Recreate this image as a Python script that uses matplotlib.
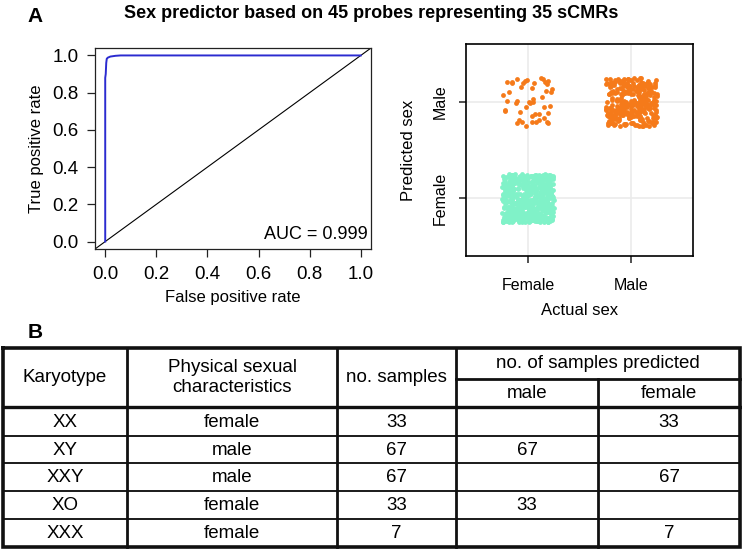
import numpy as np
import matplotlib
matplotlib.use('Agg')
import matplotlib.pyplot as plt

plt.rcParams['font.family'] = ['Liberation Sans', 'DejaVu Sans']

# ROC curve
FPR = [0.0, 0.0, 0.002, 0.004, 0.006, 0.010, 0.020, 0.040, 0.060, 1.0]
TPR = [0.0, 0.880, 0.900, 0.960, 0.982, 0.988, 0.994, 0.998, 1.0, 1.0]
AUC_TEXT = 'AUC = 0.999'

# jittered confusion plot: number of samples per (actual, predicted) cell
SEX_LABELS = ['Female', 'Male']
CELL_ACTUAL = ['Female', 'Female', 'Male', 'Male']
CELL_PREDICTED = ['Female', 'Male', 'Male', 'Female']
CELL_COUNTS = [560, 48, 300, 0]
COLOR_PRED = {'Female': '#80F2C8', 'Male': '#F57A1A'}

# table B
KARYOTYPE = ['XX', 'XY', 'XXY', 'XO', 'XXX']
PHYSICAL = ['female', 'male', 'male', 'female', 'female']
N_SAMPLES = [33, 67, 67, 33, 7]
PRED_MALE = [None, 67, None, 33, None]
PRED_FEMALE = [33, None, 67, None, 7]

TITLE = 'Sex predictor based on 45 probes representing 35 sCMRs'

fig = plt.figure(figsize=(7.42, 5.51), dpi=100)
W, H = 742, 551


def px_axes(left, top, right, bottom):
    return fig.add_axes([left / W, 1 - bottom / H, (right - left) / W, (bottom - top) / H])


# ---- ROC panel ----
ax1 = px_axes(95, 48, 371, 249)
ax1.plot(FPR, TPR, color='#2B2BD0', lw=1.4, zorder=3)
ax1.axline((0, 0), slope=1, color='black', lw=0.8)
ax1.set_xlim(-0.04, 1.04)
ax1.set_ylim(-0.04, 1.04)
ticks = np.arange(0, 1.01, 0.2)
ax1.set_xticks(ticks)
ax1.set_yticks(ticks)
ax1.set_xticklabels([f'{t:.1f}' for t in ticks])
ax1.set_yticklabels([f'{t:.1f}' for t in ticks])
ax1.tick_params(length=6, width=0.9, labelsize=13.5, pad=6, color='#222222')
for s in ax1.spines.values():
    s.set_linewidth(0.9)
    s.set_color('#222222')
ax1.set_xlabel('False positive rate', fontsize=12, labelpad=5)
ax1.set_ylabel('True positive rate', fontsize=12, labelpad=6)
ax1.text(0.99, 0.07, AUC_TEXT, transform=ax1.transAxes, ha='right', va='center', fontsize=13)

# ---- jitter panel ----
ax2 = px_axes(466, 44, 693, 256)
pos = {lab: i + 1 for i, lab in enumerate(SEX_LABELS)}
rng = np.random.default_rng(7)  # jitter only, like geom_jitter
for act, pred, n in zip(CELL_ACTUAL, CELL_PREDICTED, CELL_COUNTS):
    if n == 0:
        continue
    xs = pos[act] + rng.uniform(-0.25, 0.25, n)
    ys = pos[pred] + rng.uniform(-0.25, 0.25, n)
    ax2.scatter(xs, ys, s=12, color=COLOR_PRED[pred], linewidths=0, zorder=3)
ax2.set_xlim(0.4, 2.6)
ax2.set_ylim(0.4, 2.6)
ax2.set_xticks([1, 2])
ax2.set_yticks([1, 2])
ax2.set_xticklabels(SEX_LABELS)
ax2.set_yticklabels(SEX_LABELS, rotation=90, va='center')
ax2.grid(True, color='#EBEBEB', lw=1.2)
ax2.set_axisbelow(True)
ax2.tick_params(length=5, width=1.2, labelsize=11.5, pad=8, color='#333333')
ax2.tick_params(axis='x', pad=11)
for s in ax2.spines.values():
    s.set_linewidth(1.2)
    s.set_color('black')
ax2.set_xlabel('Actual sex', fontsize=12, labelpad=7)
ax2.set_ylabel('Predicted sex', fontsize=12, labelpad=12)

# ---- labels and title ----
fig.text(35 / W, 1 - 17 / H, 'A', fontsize=15, fontweight='bold', ha='center', va='center')
fig.text(35 / W, 1 - 333 / H, 'B', fontsize=15, fontweight='bold', ha='center', va='center')
fig.text(371 / W, 1 - 13 / H, TITLE, fontsize=13, fontweight='bold', ha='center', va='center')

# ---- table B ----
tb = fig.add_axes([0, 0, 1, 1])
tb.set_xlim(0, W)
tb.set_ylim(H, 0)
tb.axis('off')

col_edges = [3, 127, 337, 456, 598, 740]
row_edges = [348, 407, 436, 463, 491, 519, 547]
sub_y = 379
fs = 13.5

# row separators
for y in row_edges[2:-1]:
    tb.plot([col_edges[0], col_edges[-1]], [y, y], color='#1A1A1A', lw=1.4)
tb.plot([col_edges[0], col_edges[-1]], [row_edges[1], row_edges[1]], color='#111111', lw=2.4)
tb.plot([col_edges[3], col_edges[-1]], [sub_y, sub_y], color='#111111', lw=2.0)
# column separators
for x in col_edges[1:-1]:
    top = sub_y if x == col_edges[4] else row_edges[0]
    tb.plot([x, x], [top, row_edges[-1]], color='#111111', lw=2.0)
# outer border
tb.plot([col_edges[0], col_edges[-1], col_edges[-1], col_edges[0], col_edges[0]],
        [row_edges[0], row_edges[0], row_edges[-1], row_edges[-1], row_edges[0]],
        color='#111111', lw=2.6, solid_joinstyle='miter')

hy = (row_edges[0] + row_edges[1]) / 2
cx = [(col_edges[i] + col_edges[i + 1]) / 2 for i in range(5)]
tb.text(cx[0], hy, 'Karyotype', ha='center', va='center', fontsize=fs)
tb.text(cx[1], hy, 'Physical sexual\ncharacteristics', ha='center', va='center',
        fontsize=fs, linespacing=1.25)
tb.text(cx[2], hy, 'no. samples', ha='center', va='center', fontsize=fs)
tb.text((col_edges[3] + col_edges[5]) / 2, (row_edges[0] + sub_y) / 2, 'no. of samples predicted',
        ha='center', va='center', fontsize=fs)
tb.text(cx[3], (sub_y + row_edges[1]) / 2, 'male', ha='center', va='center', fontsize=fs)
tb.text(cx[4], (sub_y + row_edges[1]) / 2, 'female', ha='center', va='center', fontsize=fs)

for r in range(len(KARYOTYPE)):
    y = (row_edges[r + 1] + row_edges[r + 2]) / 2 + 1
    vals = [KARYOTYPE[r], PHYSICAL[r], N_SAMPLES[r], PRED_MALE[r], PRED_FEMALE[r]]
    for c, v in enumerate(vals):
        if v is None:
            continue
        tb.text(cx[c], y, str(v), ha='center', va='center', fontsize=fs)

fig.savefig('out.png', dpi=100)
